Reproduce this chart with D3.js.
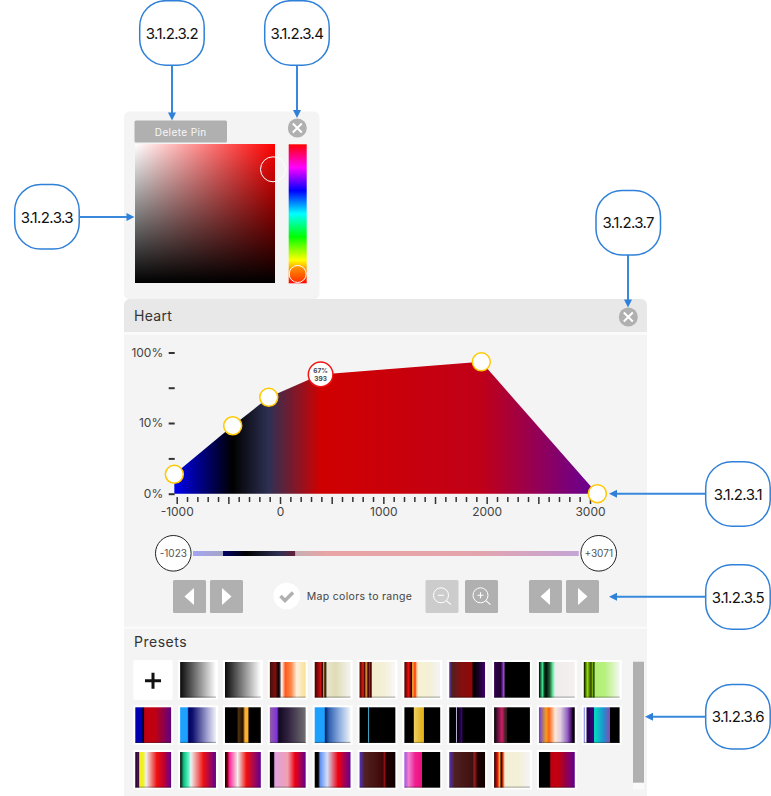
<!DOCTYPE html>
<html>
<head>
<meta charset="utf-8">
<script src="https://cdn.jsdelivr.net/npm/d3@7"></script>
<style>
html, body { margin: 0; padding: 0; background: #fff; }
svg { display: block; }
text { font-family: Inter, "Noto Sans", sans-serif; }
</style>
</head>
<body>
<div id="chart"></div>
<script>
// transfer function pins
var pinHu = [-1023, -458, -109, 393, 1948, 3071];
var pinOpacity = [0.55, 9.3, 36.9, 67, 86, 0];
var pinColor = ["#0000f0", "#000000", "#2e3054", "#d00000", "#c00018", "#640098"];
var selectedPin = 3;

var xTicks = d3.range(-1000, 3001, 100);
var yTicks = [0, 1, 10, 47, 100];
var yTickLabels = ["0%", "", "10%", "", "100%"];

var rangeEnds = [-1023, 3071];
var rangeWindow = [-704, 62];

var calloutLabels = ["3.1.2.3.1", "3.1.2.3.2", "3.1.2.3.3", "3.1.2.3.4", "3.1.2.3.5", "3.1.2.3.6", "3.1.2.3.7"];

var hueStops = ["#ff0000", "#ff00ff", "#0000ff", "#00ffff", "#00ff00", "#ffff00", "#ff0000"];

// preset colour ramps, [offset, colour]
var presetRow1 = [
  [[0, "#0a0a0a"], [1, "#ffffff"]],
  [[0, "#0a0a0a"], [1, "#ffffff"]],
  [[0, "#401008"], [.15, "#801010"], [.26, "#000000"], [.33, "#ffffff"], [.43, "#ff5a1e"], [.6, "#ff8a4a"], [.75, "#fff0e0"], [1, "#f8e090"]],
  [[0, "#400000"], [.17, "#d01010"], [.22, "#300000"], [.25, "#ffa030"], [.29, "#000000"], [.35, "#e8e4c8"], [.6, "#e0dcb8"], [1, "#f4f4f0"]],
  [[0, "#400000"], [.1, "#e02010"], [.15, "#300000"], [.18, "#ffb040"], [.24, "#200000"], [.28, "#e01010"], [.32, "#000000"], [.36, "#f4eed0"], [.7, "#f4f0d8"], [1, "#f8f8f8"]],
  [[0, "#400000"], [.12, "#f01010"], [.2, "#200000"], [.23, "#ffb030"], [.3, "#ff3010"], [.33, "#ffa070"], [.38, "#f6f2d0"], [.7, "#f4f0d8"], [1, "#f4f4f4"]],
  [[0, "#6030c0"], [.08, "#502020"], [.3, "#801010"], [.62, "#900808"], [.68, "#000000"], [.85, "#200030"], [1, "#400070"]],
  [[0, "#300050"], [.18, "#200030"], [.22, "#501080"], [.28, "#b060e0"], [.3, "#000000"], [1, "#000000"]],
  [[0, "#000000"], [.1, "#40e090"], [.15, "#104020"], [.2, "#001008"], [.3, "#206030"], [.38, "#60e0a0"], [.45, "#f0ecec"], [1, "#f4f0f0"]],
  [[0, "#000000"], [.1, "#90e000"], [.2, "#304000"], [.25, "#80c000"], [.28, "#102000"], [.32, "#b0f070"], [.6, "#b8f080"], [1, "#f4f8f0"]]
];
var presetRow2 = [
  [[0, "#0000b0"], [.17, "#0000b0"], [.23, "#000000"], [.26, "#c00010"], [.55, "#c00010"], [1, "#600080"]],
  [[0, "#1ea0ff"], [.2, "#1ea0ff"], [.24, "#000060"], [.35, "#101070"], [.75, "#a0a0d0"], [1, "#f0f0f8"]],
  [[0, "#000000"], [.33, "#000000"], [.38, "#503010"], [.5, "#201000"], [.56, "#ffb030"], [.64, "#ffb030"], [.67, "#000000"], [1, "#000000"]],
  [[0, "#9060a0"], [.2, "#8030e0"], [.25, "#100820"], [.5, "#302040"], [1, "#707070"]],
  [[0, "#1ea0ff"], [.27, "#1ea0ff"], [.29, "#002060"], [.4, "#3060b0"], [.7, "#90b0e0"], [1, "#f0f4f8"]],
  [[0, "#000000"], [.23, "#000000"], [.25, "#40a0c0"], [.28, "#000000"], [1, "#000000"]],
  [[0, "#000000"], [.25, "#000000"], [.27, "#f0d060"], [.5, "#e0b020"], [.53, "#ffd000"], [.55, "#000000"], [1, "#000000"]],
  [[0, "#000000"], [.18, "#000000"], [.2, "#c8c0e0"], [.23, "#000000"], [.3, "#200040"], [.35, "#400080"], [.38, "#000000"], [1, "#000000"]],
  [[0, "#000000"], [.1, "#601040"], [.22, "#d02060"], [.3, "#502030"], [.35, "#302020"], [.38, "#000000"], [1, "#000000"]],
  [[0, "#6040e0"], [.2, "#f0a020"], [.28, "#ff6010"], [.45, "#ffe8d8"], [.6, "#e0d0e0"], [.8, "#9060c0"], [.92, "#400060"], [.95, "#000000"], [1, "#000000"]],
  [[0, "#5060e0"], [.05, "#ffffff"], [.1, "#200050"], [.28, "#400080"], [.3, "#00e0c0"], [.55, "#2090d0"], [.72, "#8050b0"], [.73, "#000000"], [1, "#000000"]]
];
var presetRow3 = [
  [[0, "#000000"], [.08, "#701080"], [.1, "#000000"], [.12, "#f0f020"], [.22, "#f0f020"], [.3, "#f0f0f0"], [.6, "#f01010"], [.8, "#c00030"], [1, "#600090"]],
  [[0, "#000000"], [.1, "#10c080"], [.22, "#50f0c0"], [.3, "#f0f0f0"], [.65, "#f01010"], [1, "#600090"]],
  [[0, "#000000"], [.07, "#880000"], [.12, "#ff20a0"], [.3, "#f0c0d0"], [.35, "#f0f0f0"], [.6, "#f01010"], [1, "#600090"]],
  [[0, "#000000"], [.1, "#000000"], [.14, "#e0a0e0"], [.5, "#f0a0b0"], [.7, "#f00010"], [1, "#600090"]],
  [[0, "#000000"], [.1, "#000000"], [.15, "#6090f0"], [.35, "#d0e0f8"], [.65, "#f00010"], [1, "#600090"]],
  [[0, "#5030c0"], [.15, "#502020"], [.65, "#400808"], [.7, "#901010"], [.75, "#200000"], [1, "#100000"]],
  [[0, "#a050e0"], [.12, "#f080d0"], [.3, "#f02090"], [.48, "#f01080"], [.5, "#000000"], [1, "#000000"]],
  [[0, "#5030c0"], [.15, "#502020"], [.65, "#401010"], [.7, "#902020"], [.8, "#200000"], [1, "#100000"]],
  [[0, "#200000"], [.1, "#f01010"], [.15, "#ffb020"], [.2, "#200000"], [.25, "#f04010"], [.3, "#f4f0d8"], [.7, "#f4f0d8"], [1, "#f4f4f4"]],
  [[0, "#000000"], [.3, "#000000"], [.33, "#c00010"], [.55, "#c00010"], [1, "#600090"]]
];

var width = 771, height = 796;
var grey = "#b0b0b0", blue = "#2f80d8", panel = "#f4f4f4";

var svg = d3.select("#chart").append("svg").attr("width", width).attr("height", height);
var defs = svg.append("defs");

function addGradient(id, stops, x1, y1, x2, y2, units) {
  var g = defs.append("linearGradient").attr("id", id)
    .attr("x1", x1).attr("y1", y1).attr("x2", x2).attr("y2", y2);
  if (units) g.attr("gradientUnits", units);
  g.selectAll("stop").data(stops).enter().append("stop")
    .attr("offset", d => d[0])
    .attr("stop-color", d => d[1]);
}

// panels
svg.append("rect").attr("x", 124).attr("y", 111.5).attr("width", 195.5).attr("height", 188).attr("rx", 6).attr("fill", panel);
svg.append("path").attr("d", "M124,796V305a6,6 0 0 1 6,-6H641a6,6 0 0 1 6,6V796Z").attr("fill", "#fafafa");
svg.append("path").attr("d", "M124,332V305a6,6 0 0 1 6,-6H641a6,6 0 0 1 6,6V332Z").attr("fill", "#e8e8e8");
svg.append("rect").attr("x", 124).attr("y", 335).attr("width", 523).attr("height", 291.5).attr("fill", panel);
svg.append("rect").attr("x", 124).attr("y", 629).attr("width", 523).attr("height", 167).attr("fill", panel);

function panelText(str, x, y, size, fill, spacing, anchor) {
  return svg.append("text").attr("x", x).attr("y", y).attr("font-size", size).attr("fill", fill)
    .attr("letter-spacing", spacing || 0).attr("text-anchor", anchor || "start").text(str);
}

panelText("Heart", 134, 321, 14, "#333", 0.3);
panelText("Presets", 134, 646.5, 14, "#333", 0.5);

// picker
function closeButton(cx, cy) {
  svg.append("circle").attr("cx", cx).attr("cy", cy).attr("r", 9.5).attr("fill", grey);
  svg.append("path").attr("d", `M${cx - 4.5},${cy - 4.5}L${cx + 4.5},${cy + 4.5}M${cx - 4.5},${cy + 4.5}L${cx + 4.5},${cy - 4.5}`)
    .attr("stroke", "#fff").attr("stroke-width", 2).attr("fill", "none");
}

svg.append("rect").attr("x", 134.5).attr("y", 120.5).attr("width", 92.5).attr("height", 22).attr("rx", 1.5).attr("fill", grey);
panelText("Delete Pin", 180.7, 135.5, 10, "#f8f8f8", 0.4, "middle");
closeButton(297.3, 128);
closeButton(628.3, 317);

addGradient("satH", [[0, "#ffffff"], [1, "#ff0000"]], 0, 0, 1, 0);
defs.append("linearGradient").attr("id", "satV").attr("x1", 0).attr("y1", 0).attr("x2", 0).attr("y2", 1)
  .selectAll("stop").data([[0, 0], [1, 1]]).enter().append("stop")
  .attr("offset", d => d[0]).attr("stop-color", "#000").attr("stop-opacity", d => d[1]);
svg.append("rect").attr("x", 135).attr("y", 144).attr("width", 140).attr("height", 139).attr("fill", "url(#satH)");
svg.append("rect").attr("x", 135).attr("y", 144).attr("width", 140).attr("height", 139).attr("fill", "url(#satV)");
svg.append("circle").attr("cx", 273).attr("cy", 169.3).attr("r", 12.5).attr("fill", "none").attr("stroke", "#fff").attr("stroke-width", 1);

addGradient("hue", hueStops.map((c, i) => [i / (hueStops.length - 1), c]), 0, 0, 0, 1);
svg.append("rect").attr("x", 288.7).attr("y", 144.3).attr("width", 18).attr("height", 139).attr("fill", "url(#hue)");
addGradient("hueKnob", [[0, "#ff9c00"], [1, "#ff3000"]], 0, 0, 0, 1);
svg.append("circle").attr("cx", 297.7).attr("cy", 274).attr("r", 8.5).attr("fill", "url(#hueKnob)").attr("stroke", "#fff").attr("stroke-width", 1);

// transfer function chart
var x = d3.scaleLinear().domain([-1000, 3000]).range([176.7, 590]);
var y = d3.scaleLinear().domain(yTicks).range([493.7, 458.4, 423, 387.7, 352.5]);

addGradient("ramp", pinHu.map((h, i) => [(h - pinHu[0]) / (pinHu[pinHu.length - 1] - pinHu[0]), pinColor[i]]),
  x(pinHu[0]), 0, x(pinHu[pinHu.length - 1]), 0, "userSpaceOnUse");

var area = d3.area().x(d => x(d.hu)).y0(y(0)).y1(d => y(d.opacity));
var pins = pinHu.map((h, i) => ({ hu: h, opacity: pinOpacity[i] }));
svg.append("path").datum(pins).attr("d", area).attr("fill", "url(#ramp)");

var yAxis = svg.append("g").attr("transform", "translate(174.7,0)")
  .call(d3.axisLeft(y).tickValues(yTicks).tickSize(6).tickPadding(5.5).tickFormat((d, i) => yTickLabels[i]));
var xAxis = svg.append("g").attr("transform", "translate(0,497)")
  .call(d3.axisBottom(x).tickValues(xTicks).tickSize(5).tickPadding(5).tickFormat(d => d % 1000 == 0 ? d : ""));
[yAxis, xAxis].forEach(a => {
  a.select(".domain").remove();
  a.selectAll("text").attr("font-family", "Inter").attr("font-size", 12).attr("fill", "#444");
  a.selectAll("line").attr("stroke", "#333").attr("stroke-width", 1.5);
});
yAxis.selectAll("line").attr("stroke-width", 2);
xAxis.selectAll("line").filter(d => d % 500 == 0).attr("y2", 7);

svg.append("g").selectAll("circle").data(pins.filter((p, i) => i != selectedPin)).enter().append("circle")
  .attr("cx", d => x(d.hu)).attr("cy", d => y(d.opacity)).attr("r", 9)
  .attr("fill", "#fff").attr("stroke", "#ffc800").attr("stroke-width", 1.5);

var sel = pins[selectedPin];
svg.append("circle").attr("cx", x(sel.hu)).attr("cy", y(sel.opacity)).attr("r", 12.3)
  .attr("fill", "#fff").attr("stroke", "#f01414").attr("stroke-width", 1.5);
panelText(sel.opacity + "%", x(sel.hu), y(sel.opacity) - 1, 6.5, "#444", 0, "middle").attr("font-weight", 700);
panelText(sel.hu, x(sel.hu), y(sel.opacity) + 7, 6.5, "#444", 0, "middle").attr("font-weight", 700);

// range slider
var rangeX = d3.scaleLinear().domain(rangeEnds).range([193, 578.3]);
addGradient("rangeRamp", pinHu.map((h, i) => [(h - rangeEnds[0]) / (rangeEnds[1] - rangeEnds[0]), pinColor[i]]), 0, 0, 1, 0);
svg.append("rect").attr("x", rangeX(rangeEnds[0])).attr("y", 551).attr("width", rangeX(rangeEnds[1]) - rangeX(rangeEnds[0])).attr("height", 5).attr("fill", "url(#rangeRamp)");
svg.append("rect").attr("x", rangeX(rangeEnds[0])).attr("y", 551).attr("width", rangeX(rangeWindow[0]) - rangeX(rangeEnds[0])).attr("height", 5).attr("fill", panel).attr("opacity", .67);
svg.append("rect").attr("x", rangeX(rangeWindow[1])).attr("y", 551).attr("width", rangeX(rangeEnds[1]) - rangeX(rangeWindow[1])).attr("height", 5).attr("fill", panel).attr("opacity", .67);

svg.append("g").selectAll("circle").data(rangeEnds).enter().append("circle")
  .attr("cx", (d, i) => i == 0 ? 173.3 : 598.7).attr("cy", 553.3).attr("r", 17.8)
  .attr("fill", "#fff").attr("stroke", "#222").attr("stroke-width", 1);
panelText(rangeEnds[0], 173.3, 557, 10, "#555", 0, "middle").attr("font-family", "Roboto");
panelText("+" + rangeEnds[1], 598.7, 557, 10, "#555", 0, "middle").attr("font-family", "Roboto");

// buttons
function button(bx, fill) {
  svg.append("rect").attr("x", bx).attr("y", 580).attr("width", 33).attr("height", 33).attr("rx", 1.5).attr("fill", fill || grey);
}
function arrowButton(bx, dir) {
  button(bx);
  var c = bx + 16.5;
  svg.append("path").attr("d", dir < 0 ? `M${c - 5},596.5L${c + 4.5},588V605Z` : `M${c + 5},596.5L${c - 4.5},588V605Z`).attr("fill", "#fff");
}
function zoomButton(bx, fill, plus) {
  button(bx, fill);
  var cx = bx + 15.5, cy = 595.3;
  svg.append("circle").attr("cx", cx).attr("cy", cy).attr("r", 7.5).attr("fill", "none").attr("stroke", "#fff").attr("stroke-width", 1);
  var d = `M${cx + 5.3},${cy + 5.3}L${cx + 10},${cy + 9.3}M${cx - 3},${cy}H${cx + 3}`;
  if (plus) d += `M${cx},${cy - 3}V${cy + 3}`;
  svg.append("path").attr("d", d).attr("fill", "none").attr("stroke", "#fff").attr("stroke-width", 1.1);
}
arrowButton(173, -1);
arrowButton(210, 1);
arrowButton(529, -1);
arrowButton(566, 1);
zoomButton(425.5, "#cccccc", false);
zoomButton(465, grey, true);

svg.append("circle").attr("cx", 286.7).attr("cy", 596).attr("r", 13.3).attr("fill", "#fff");
svg.append("path").attr("d", "M280.5,596L285,600.5L293,592.5").attr("fill", "none").attr("stroke", grey).attr("stroke-width", 3.5);
panelText("Map colors to range", 306.7, 600, 10.5, "#444", 0.32);

// presets
svg.append("rect").attr("x", 133.3).attr("y", 660).attr("width", 39.4).attr("height", 40).attr("rx", 2).attr("fill", "#fff");
svg.append("path").attr("d", "M145,680.8H161M153,672.8V688.8").attr("stroke", "#111").attr("stroke-width", 3).attr("fill", "none");

var presetTop = [660, 705.3, 750];
function drawPresets(rows, row, firstCol) {
  rows.forEach((stops, i) => {
    var tx = 133.3 + (firstCol + i) * 44.85;
    var id = "preset" + row + "_" + i;
    addGradient(id, stops, 0, 0, 1, 0);
    svg.append("rect").attr("x", tx).attr("y", presetTop[row]).attr("width", 39.8).attr("height", 39.4).attr("fill", "#fff");
    svg.append("rect").attr("x", tx + 2).attr("y", presetTop[row] + 2).attr("width", 35.8).attr("height", 35.6).attr("fill", `url(#${id})`);
    svg.append("rect").attr("x", tx + 2).attr("y", presetTop[row] + 36.6).attr("width", 35.8).attr("height", 1).attr("fill", "#000").attr("opacity", .35);
  });
}
drawPresets(presetRow1, 0, 1);
drawPresets(presetRow2, 1, 0);
drawPresets(presetRow3, 2, 0);

svg.append("rect").attr("x", 633).attr("y", 661.7).attr("width", 11).attr("height", 127.5).attr("fill", "#fafafa");
svg.append("rect").attr("x", 633).attr("y", 661.7).attr("width", 11).attr("height", 121).attr("fill", grey);

// callouts
function callout(label, bx, by) {
  svg.append("rect").attr("x", bx).attr("y", by).attr("width", 64.5).attr("height", 64.5).attr("rx", 26)
    .attr("fill", "#fff").attr("stroke", blue).attr("stroke-width", 1.5);
  svg.append("text").attr("x", bx + 32.2).attr("y", by + 38).attr("text-anchor", "middle")
    .attr("font-size", 15).attr("letter-spacing", -0.6).attr("fill", "#111").text(label);
}
function arrow(x1, y1, x2, y2) {
  var dx = Math.sign(x2 - x1), dy = Math.sign(y2 - y1);
  svg.append("line").attr("x1", x1).attr("y1", y1).attr("x2", x2 - dx * 5).attr("y2", y2 - dy * 5)
    .attr("stroke", "#3a88dc").attr("stroke-width", 2);
  svg.append("path").attr("d", `M${x2},${y2}L${x2 - dx * 8 - dy * 4},${y2 - dy * 8 - dx * 4}L${x2 - dx * 8 + dy * 4},${y2 - dy * 8 + dx * 4}Z`)
    .attr("fill", blue);
}
arrow(172, 65, 172, 120.5);
arrow(297, 65, 297, 118);
arrow(79.7, 217, 134.5, 217);
arrow(628, 255, 628, 307.5);
arrow(705.7, 493.7, 609, 493.7);
arrow(705.7, 596.7, 609, 596.7);
arrow(705.7, 716.7, 645, 716.7);

callout(calloutLabels[0], 705.7, 461.7);
callout(calloutLabels[1], 139.7, 0.7);
callout(calloutLabels[2], 14.7, 184.6);
callout(calloutLabels[3], 264.7, 0.7);
callout(calloutLabels[4], 705.7, 564.7);
callout(calloutLabels[5], 705.7, 684.4);
callout(calloutLabels[6], 596, 190.4);
</script>
</body>
</html>
